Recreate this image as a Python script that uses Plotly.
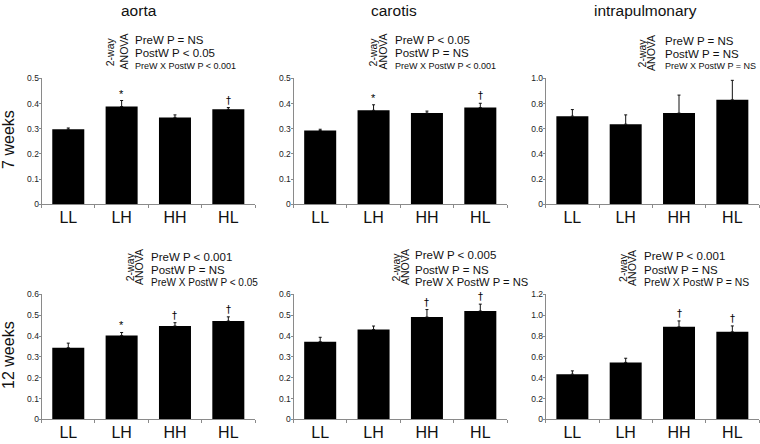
import plotly.graph_objects as go

# ---------------- data ----------------
categories = ["LL", "LH", "HH", "HL"]

aorta_7w = [0.298, 0.388, 0.345, 0.377]
aorta_7w_err = [0.005, 0.024, 0.010, 0.007]
aorta_7w_sig = ["", "*", "", "†"]

carotis_7w = [0.293, 0.373, 0.362, 0.384]
carotis_7w_err = [0.005, 0.022, 0.008, 0.017]
carotis_7w_sig = ["", "*", "", "†"]

intrapulmonary_7w = [0.700, 0.636, 0.724, 0.829]
intrapulmonary_7w_err = [0.052, 0.074, 0.143, 0.155]
intrapulmonary_7w_sig = ["", "", "", ""]

aorta_12w = [0.344, 0.402, 0.448, 0.472]
aorta_12w_err = [0.022, 0.015, 0.016, 0.020]
aorta_12w_sig = ["", "*", "†", "†"]

carotis_12w = [0.373, 0.431, 0.491, 0.520]
carotis_12w_err = [0.021, 0.017, 0.036, 0.033]
carotis_12w_sig = ["", "", "†", "†"]

intrapulmonary_12w = [0.434, 0.547, 0.888, 0.840]
intrapulmonary_12w_err = [0.032, 0.040, 0.057, 0.057]
intrapulmonary_12w_sig = ["", "", "†", "†"]

yticks_05 = [0, 0.1, 0.2, 0.3, 0.4, 0.5]
yticklabels_05 = ["0", "0.1", "0.2", "0.3", "0.4", "0.5"]
yticks_06 = [0, 0.1, 0.2, 0.3, 0.4, 0.5, 0.6]
yticklabels_06 = ["0", "0.1", "0.2", "0.3", "0.4", "0.5", "0.6"]
yticks_10 = [0, 0.2, 0.4, 0.6, 0.8, 1.0]
yticklabels_10 = ["0", "0.2", "0.4", "0.6", "0.8", "1.0"]
yticks_12 = [0, 0.2, 0.4, 0.6, 0.8, 1.0, 1.2]
yticklabels_12 = ["0", "0.2", "0.4", "0.6", "0.8", "1.0", "1.2"]

column_titles = ["aorta", "carotis", "intrapulmonary"]
row_titles = ["7 weeks", "12 weeks"]

anova_aorta_7w = ["PreW P = NS", "PostW P < 0.05", "PreW X PostW P < 0.001"]
anova_carotis_7w = ["PreW P < 0.05", "PostW P = NS", "PreW X PostW P < 0.001"]
anova_intrapulmonary_7w = ["PreW P = NS", "PostW P = NS", "PreW X PostW P = NS"]
anova_aorta_12w = ["PreW P < 0.001", "PostW P = NS", "PreW X PostW P < 0.05"]
anova_carotis_12w = ["PreW P < 0.005", "PostW P = NS", "PreW X PostW P = NS"]
anova_intrapulmonary_12w = ["PreW P < 0.001", "PostW P = NS", "PreW X PostW P = NS"]

# ---------------- layout helpers ----------------
W, H = 760, 444
def px_x(p):
    return p / W
def px_y(p):
    return 1 - p / H

col_px = [(41.6, 255.0), (293.5, 507.0), (545.7, 759.0)]
row_px = [(75.0, 204.0), (296.0, 424.0)]

panels = [
    (0, 0, aorta_7w, aorta_7w_err, aorta_7w_sig, 0.5, yticks_05, yticklabels_05),
    (0, 1, carotis_7w, carotis_7w_err, carotis_7w_sig, 0.5, yticks_05, yticklabels_05),
    (0, 2, intrapulmonary_7w, intrapulmonary_7w_err, intrapulmonary_7w_sig, 1.0, yticks_10, yticklabels_10),
    (1, 0, aorta_12w, aorta_12w_err, aorta_12w_sig, 0.6, yticks_06, yticklabels_06),
    (1, 1, carotis_12w, carotis_12w_err, carotis_12w_sig, 0.6, yticks_06, yticklabels_06),
    (1, 2, intrapulmonary_12w, intrapulmonary_12w_err, intrapulmonary_12w_sig, 1.2, yticks_12, yticklabels_12),
]

TICKFONT = "Liberation Sans Narrow, Liberation Sans, Arial, sans-serif"
FONT = "Liberation Sans, Arial, sans-serif"
AXCOL = "#8a8a8a"

fig = go.Figure()
annotations = []
layout = {}

for idx, (r, c, vals, errs, sigs, ymax, tv, tt) in enumerate(panels):
    n = idx + 1
    xa = "x" if n == 1 else f"x{n}"
    ya = "y" if n == 1 else f"y{n}"
    fig.add_trace(go.Bar(
        x=categories, y=vals, xaxis=xa, yaxis=ya,
        marker=dict(color="black", line=dict(width=0)),
        width=0.6,
        error_y=dict(type="data", array=errs, arrayminus=[0] * len(errs),
                     symmetric=False, color="#111", thickness=1, width=1.5),
        showlegend=False, hoverinfo="skip",
    ))
    xkey = "xaxis" if n == 1 else f"xaxis{n}"
    ykey = "yaxis" if n == 1 else f"yaxis{n}"
    layout[xkey] = dict(
        domain=[px_x(col_px[c][0]), px_x(col_px[c][1])],
        anchor=ya, type="category", range=[-0.5, 3.5],
        showline=True, linecolor=AXCOL, linewidth=1,
        ticks="outside", tickson="boundaries", ticklen=3, tickcolor=AXCOL,
        tickfont=dict(size=16, color="#111", family=FONT),
        ticklabelstandoff=-2,
        showgrid=False, zeroline=False, fixedrange=True,
    )
    layout[ykey] = dict(
        domain=[px_y(row_px[r][1]), px_y(row_px[r][0])],
        anchor=xa, range=[0, ymax],
        tickmode="array", tickvals=tv, ticktext=tt,
        showline=True, linecolor=AXCOL, linewidth=1,
        ticks="outside", ticklen=2, tickcolor=AXCOL,
        tickfont=dict(size=8.5, color="#222", family=TICKFONT),
        ticklabelstandoff=-2,
        showgrid=False, zeroline=False, fixedrange=True,
    )
    for cat, v, e, s in zip(categories, vals, errs, sigs):
        if s:
            annotations.append(dict(
                x=cat, y=v + e, xref=xa, yref=ya, text=s, showarrow=False,
                yanchor="bottom", yshift=0 if s == "†" else -1,
                font=dict(size=11 if s == "*" else 10, color="black",
                          family="DejaVu Sans, Liberation Sans, sans-serif" if s == "†" else FONT),
            ))

# column titles
title_x = [139, 394, 645]
for t, xp in zip(column_titles, title_x):
    annotations.append(dict(x=px_x(xp), y=px_y(6), xref="paper", yref="paper",
                            text=t, showarrow=False, xanchor="center", yanchor="middle",
                            font=dict(size=15.5, color="#111", family=FONT)))
# row titles
for t, yp in zip(row_titles, [138, 358]):
    annotations.append(dict(x=px_x(9), y=px_y(yp), xref="paper", yref="paper",
                            text=t, textangle=-90, showarrow=False,
                            xanchor="center", yanchor="middle",
                            font=dict(size=16, color="#111", family=FONT)))

# ANOVA blocks: (lines, x of "2-way", x of "ANOVA", text left x, line y's, rotated centre y, 3rd-line size)
anova_blocks = [
    (anova_aorta_7w, 110.3, 123.5, 133.3, [36, 49.3, 62], 48, 9),
    (anova_carotis_7w, 372.5, 382.5, 392.7, [36, 49.3, 62.7], 48, 9),
    (anova_intrapulmonary_7w, 641.5, 651.0, 662.7, [36.7, 50, 62.7], 49, 9),
    (anova_aorta_12w, 130.3, 139.0, 149.3, [257.3, 270.7, 284], 268, 10),
    (anova_carotis_12w, 395.5, 405.0, 412.7, [256, 270.7, 283.3], 268, 11.2),
    (anova_intrapulmonary_12w, 623.0, 632.0, 641.7, [256.7, 270.7, 284], 269, 10.4),
]
for lines, xr1, xr2, xt, ys, yc, s3 in anova_blocks:
    for word, xr in (("2-way", xr1), ("ANOVA", xr2)):
        annotations.append(dict(x=px_x(xr), y=px_y(yc), xref="paper", yref="paper",
                                text=word, textangle=-90, showarrow=False,
                                xanchor="center", yanchor="middle",
                                font=dict(size=10.5, color="#111", family=FONT)))
    for line, yy, sz in zip(lines, ys, [11.5, 11.5, s3]):
        annotations.append(dict(x=px_x(xt), y=px_y(yy), xref="paper", yref="paper",
                                text=line, showarrow=False, xanchor="left", yanchor="middle",
                                font=dict(size=sz, color="#111",
                                          family=FONT if sz > 10 else TICKFONT)))

fig.update_layout(
    width=W, height=H,
    margin=dict(l=0, r=0, t=0, b=0),
    paper_bgcolor="white", plot_bgcolor="white",
    bargap=0.4,
    hovermode=False,
    annotations=annotations,
    **layout,
)

fig.write_html("out.html", config={"displayModeBar": False, "staticPlot": True},
               post_script="document.body.style.margin='0px';document.body.style.overflow='hidden';")
